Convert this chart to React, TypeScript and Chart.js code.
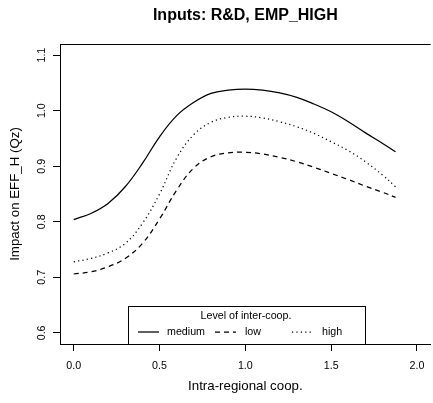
import React, { useEffect, useRef } from "react";
import { Chart, registerables } from "chart.js";

Chart.register(...registerables);

const chartTitle = "Inputs: R&D, EMP_HIGH";
const xAxisTitle = "Intra-regional coop.";
const yAxisTitle = "Impact on EFF_H (Qz)";
const legendTitle = "Level of inter-coop.";

const xValues = [0, 0.1, 0.2, 0.3, 0.4, 0.5, 0.6, 0.7, 0.8, 0.9, 1.0, 1.1, 1.2, 1.3, 1.4, 1.5, 1.6, 1.7, 1.8, 1.875];
const mediumValues = [0.804, 0.815, 0.833, 0.863, 0.905, 0.953, 0.991, 1.015, 1.031, 1.037, 1.039, 1.037, 1.032, 1.024, 1.012, 0.998, 0.98, 0.96, 0.941, 0.926];
const lowValues = [0.706, 0.71, 0.719, 0.734, 0.761, 0.805, 0.857, 0.897, 0.917, 0.924, 0.925, 0.922, 0.916, 0.908, 0.898, 0.887, 0.876, 0.864, 0.853, 0.844];
const highValues = [0.728, 0.734, 0.744, 0.761, 0.797, 0.85, 0.915, 0.957, 0.979, 0.988, 0.99, 0.987, 0.98, 0.971, 0.959, 0.944, 0.928, 0.908, 0.884, 0.863];

const seriesLabels = ["medium", "low", "high"];
const xTicks = [0, 0.5, 1.0, 1.5, 2.0];
const yTicks = [0.6, 0.7, 0.8, 0.9, 1.0, 1.1];

const FONT = "'Liberation Sans', Arial, Helvetica, sans-serif";

const framePlugin = {
  id: "frameTop",
  afterDraw(chart: any) {
    const { ctx, chartArea } = chart;
    ctx.save();
    ctx.strokeStyle = "#000";
    ctx.lineWidth = 1;
    ctx.beginPath();
    const y = Math.round(chartArea.top) + 0.5;
    ctx.moveTo(chartArea.left, y);
    ctx.lineTo(chartArea.right, y);
    ctx.stroke();
    ctx.restore();
  },
};

const legendPlugin = {
  id: "insetLegend",
  afterDraw(chart: any) {
    const { ctx, chartArea } = chart;
    const ds = chart.data.datasets;
    const boxLeft = 128.5;
    const boxRight = 365.5;
    const boxTop = 306.5;
    const boxBottom = Math.round(chartArea.bottom) + 0.5;
    ctx.save();
    ctx.fillStyle = "#fff";
    ctx.fillRect(boxLeft, boxTop, boxRight - boxLeft, boxBottom - boxTop);
    ctx.strokeStyle = "#000";
    ctx.lineWidth = 1;
    ctx.strokeRect(boxLeft, boxTop, boxRight - boxLeft, boxBottom - boxTop);
    ctx.fillStyle = "#000";
    ctx.font = `10.7px ${FONT}`;
    ctx.textAlign = "center";
    ctx.textBaseline = "middle";
    ctx.fillText(legendTitle, 246, 316.5);
    const lineStarts = [138, 215, 292];
    const textStarts = [167, 245, 322];
    const rowY = 332;
    ds.forEach((d: any, i: number) => {
      ctx.save();
      ctx.strokeStyle = d.borderColor;
      ctx.lineWidth = d.borderWidth;
      ctx.setLineDash(d.borderDash || []);
      ctx.beginPath();
      ctx.moveTo(lineStarts[i], rowY);
      ctx.lineTo(lineStarts[i] + 21, rowY);
      ctx.stroke();
      ctx.restore();
      ctx.textAlign = "left";
      ctx.textBaseline = "middle";
      ctx.fillStyle = "#000";
      ctx.fillText(d.label, textStarts[i], rowY);
    });
    ctx.restore();
  },
};

export default function App() {
  const ref = useRef<HTMLCanvasElement | null>(null);
  useEffect(() => {
    if (!ref.current) return;
    const series = [mediumValues, lowValues, highValues];
    const dashes = [[], [5, 4], [1.2, 3.2]];
    const chart = new Chart(ref.current, {
      type: "line",
      data: {
        datasets: series.map((vals, i) => ({
          label: seriesLabels[i],
          data: xValues.map((x, j) => ({ x, y: vals[j] })),
          borderColor: "#000",
          borderWidth: 1.25,
          borderDash: dashes[i],
          pointRadius: 0,
          fill: false,
          tension: 0.4,
        })),
      },
      options: {
        animation: false,
        responsive: false,
        devicePixelRatio: 1,
        layout: { padding: 0 },
        plugins: {
          legend: { display: false },
          tooltip: { enabled: false },
          title: {
            display: true,
            text: chartTitle,
            fullSize: false,
            color: "#000",
            font: { family: FONT, size: 16, weight: "bold", lineHeight: 1.2 },
            padding: { top: 5.5, bottom: 19.3 },
          },
        },
        scales: {
          x: {
            type: "linear",
            min: -0.08,
            max: 2.08,
            afterBuildTicks: (s: any) => {
              s.ticks = xTicks.map((v) => ({ value: v }));
            },
            afterFit: (s: any) => {
              s.height = 59;
            },
            grid: { display: true, drawOnChartArea: false, drawTicks: true, tickLength: 7, color: "#000", lineWidth: 1 },
            border: { display: true, color: "#000", width: 1 },
            ticks: {
              color: "#000",
              font: { family: FONT, size: 10.7 },
              padding: 8.5,
              maxRotation: 0,
              autoSkip: false,
              callback: (v: any) => Number(v).toFixed(1),
            },
            title: {
              display: true,
              text: xAxisTitle,
              color: "#000",
              font: { family: FONT, size: 13.3, lineHeight: 1.2 },
              padding: { top: 0, bottom: 8.5 },
            },
          },
          y: {
            type: "linear",
            min: 0.58,
            max: 1.12,
            afterBuildTicks: (s: any) => {
              s.ticks = yTicks.map((v) => ({ value: v }));
            },
            afterFit: (s: any) => {
              s.width = 60;
            },
            grid: { display: true, drawOnChartArea: false, drawTicks: true, tickLength: 7, color: "#000", lineWidth: 1 },
            border: { display: true, color: "#000", width: 1 },
            ticks: {
              color: "#000",
              font: { family: FONT, size: 10.7 },
              padding: 3.5,
              minRotation: 90,
              maxRotation: 90,
              crossAlign: "center",
              autoSkip: false,
              callback: (v: any) => Number(v).toFixed(1),
            },
            title: {
              display: true,
              text: yAxisTitle,
              color: "#000",
              font: { family: FONT, size: 13.3, lineHeight: 1.2 },
              padding: { top: 7, bottom: 0 },
            },
          },
        },
      },
      plugins: [framePlugin, legendPlugin],
    } as any);
    return () => chart.destroy();
  }, []);
  return (
    <div style={{ position: "fixed", left: 0, top: 0, width: 433, height: 403, background: "#fff" }}>
      <canvas ref={ref} width={433} height={403} style={{ width: 433, height: 403, display: "block" }} />
    </div>
  );
}
